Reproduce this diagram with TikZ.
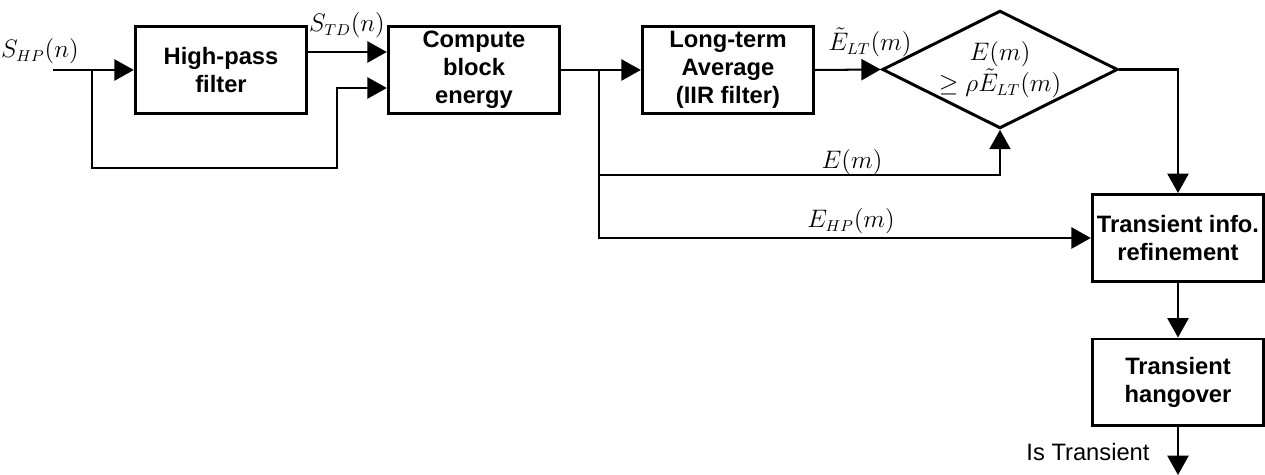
\documentclass[tikz,border=0pt]{standalone}
\usepackage[no-math]{fontspec}
\setmainfont{Liberation Sans}
\usetikzlibrary{arrows.meta,shapes.geometric}

\begin{document}
\begin{tikzpicture}[x=0.02cm,y=-0.02cm,
    every node/.style={font=\fontsize{13.5}{16}\selectfont},
    box/.style={draw,line width=1.7pt,minimum width=3.43cm,minimum height=1.74cm,
      inner sep=0pt,align=center,font=\fontsize{13.5}{16}\selectfont\bfseries},
    test/.style={draw,diamond,aspect=2,line width=1.7pt,minimum width=4.4cm,
      minimum height=2.26cm,inner sep=0pt,align=center},
    wire/.style={line width=1.15pt},
    arr/.style={wire,-{Triangle[length=11pt,width=12pt]}}]
  \useasboundingbox (0,0) rectangle (1265,475);
  % blocks
  \node[box] (hp) at (221,70) {High-pass\\filter};
  \node[box] (cbe) at (474,70) {Compute\\block\\energy};
  \node[box] (lta) at (728,70) {Long-term\\Average\\(IIR filter)};
  \node[test] (cmp) at (1000,69.5) {$E(m)$\\$\geq \rho\tilde{E}_{LT}(m)$};
  \node[box] (tir) at (1178,238) {Transient info.\\refinement};
  \node[box] (tho) at (1178,382.5) {Transient\\hangover};
  % branch points
  \coordinate (in) at (53,70);
  \coordinate (b1) at (92,70);
  \coordinate (b2) at (599,70);
  \coordinate (out) at (1178,475);
  % connectors
  \draw[arr] (in) -- (hp.west);
  \draw[arr] (b1) |- (337,168) |- (cbe.west |- 0,88);
  \draw[arr] (hp.east |- 0,52) -- (cbe.west |- 0,52);
  \draw[arr] (cbe.east) -- (lta.west);
  \draw[arr] (lta.east) -- (cmp.west);
  \draw[arr] (b2) |- (cmp.south |- 0,175) -- (cmp.south);
  \draw[arr] (b2) |- (tir.west |- 0,238);
  \draw[arr] (cmp.east) -| (tir.north);
  \draw[arr] (tir.south) -- (tho.north);
  \draw[arr] (tho.south) -- (out);
  % labels
  \node (shp) at (40,51) {$S_{HP}(n)$};
  \node (std) at (347,25) {$S_{TD}(n)$};
  \node (elt) at (870,42) {$\tilde{E}_{LT}(m)$};
  \node (em) at (852,162) {$E(m)$};
  \node (ehp) at (851,221) {$E_{HP}(m)$};
  \node (ist) at (1088,452) {Is Transient};
\end{tikzpicture}
\end{document}
